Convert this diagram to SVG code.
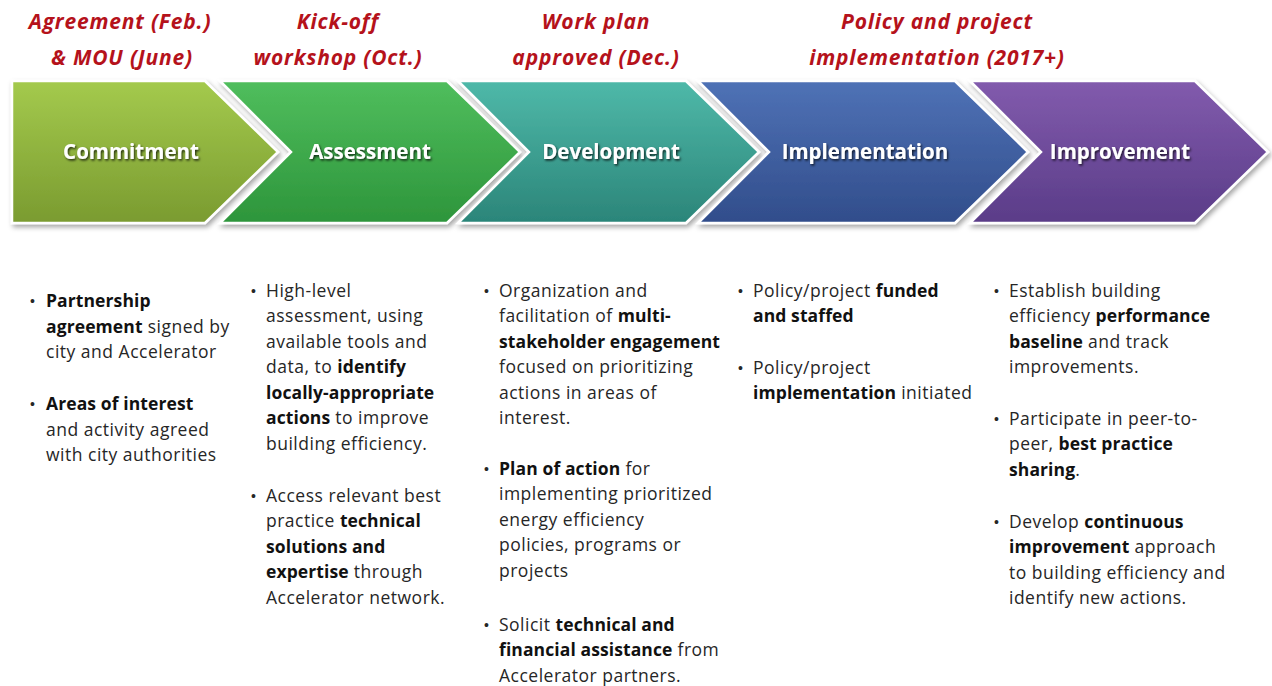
<svg xmlns="http://www.w3.org/2000/svg" width="1272" height="686" viewBox="0 0 1272 686">
  <style>
    .hdr { font-family: "Open Sans", "Liberation Sans", sans-serif; font-style: italic; font-weight: bold; font-size: 21px; letter-spacing: 0.8px; fill: #b5121b; text-anchor: middle; }
    .lbl { font-family: "Open Sans", "Liberation Sans", sans-serif; font-weight: bold; font-size: 20.5px; fill: #ffffff; text-anchor: middle; }
    .chev { stroke: #ffffff; stroke-width: 2.5; stroke-linejoin: miter; }
    .body { font-family: "Open Sans", "Liberation Sans", sans-serif; font-size: 17.5px; letter-spacing: 0.5px; fill: #262626; }
    .b { font-weight: bold; letter-spacing: 0.1px; fill: #111111; }
    .dot { font-family: "Liberation Sans", sans-serif; font-size: 14px; letter-spacing: 0; fill: #262626; }
  </style>
  <defs>
    <filter id="shadow" x="-5%" y="-10%" width="115%" height="130%">
      <feDropShadow dx="2" dy="3" stdDeviation="2.5" flood-color="#000000" flood-opacity="0.35"/>
    </filter>
    <filter id="txtShadow" x="-10%" y="-30%" width="120%" height="160%">
      <feDropShadow dx="1.2" dy="1.6" stdDeviation="0.9" flood-color="#000000" flood-opacity="0.75"/>
    </filter>
    <linearGradient id="gCommit" x1="0" y1="0" x2="0" y2="1">
      <stop offset="0" stop-color="#a4ca4d"/>
      <stop offset="1" stop-color="#7a9b30"/>
    </linearGradient>
    <linearGradient id="gAssess" x1="0" y1="0" x2="0" y2="1">
      <stop offset="0" stop-color="#50be5d"/>
      <stop offset="1" stop-color="#2d953b"/>
    </linearGradient>
    <linearGradient id="gDevel" x1="0" y1="0" x2="0" y2="1">
      <stop offset="0" stop-color="#4fb9a9"/>
      <stop offset="1" stop-color="#2b8579"/>
    </linearGradient>
    <linearGradient id="gImpl" x1="0" y1="0" x2="0" y2="1">
      <stop offset="0" stop-color="#4f72b6"/>
      <stop offset="1" stop-color="#314d8b"/>
    </linearGradient>
    <linearGradient id="gImprove" x1="0" y1="0" x2="0" y2="1">
      <stop offset="0" stop-color="#825bad"/>
      <stop offset="1" stop-color="#5a3c88"/>
    </linearGradient>
  </defs>

  <rect x="0" y="0" width="1272" height="686" fill="#ffffff"/>

  <!-- Milestone captions above each phase -->
  <g id="milestones">
    <text class="hdr" x="120" y="29">Agreement (Feb.)</text>
    <text class="hdr" x="122" y="65">&amp; MOU (June)</text>
    <text class="hdr" x="338" y="29">Kick-off</text>
    <text class="hdr" x="338" y="65">workshop (Oct.)</text>
    <text class="hdr" x="596" y="29">Work plan</text>
    <text class="hdr" x="596" y="65">approved (Dec.)</text>
    <text class="hdr" x="937" y="29">Policy and project</text>
    <text class="hdr" x="937" y="65">implementation (2017+)</text>
  </g>

  <!-- Phase chevrons -->
  <g id="commitment">
    <polygon class="chev" filter="url(#shadow)" fill="url(#gCommit)" points="12,81 205,81 278,152 205,223 12,223"/>
    <text class="lbl" filter="url(#txtShadow)" x="131" y="159">Commitment</text>
  </g>
  <g id="assessment">
    <polygon class="chev" filter="url(#shadow)" fill="url(#gAssess)" points="220,81 447,81 520,152 447,223 220,223 291,152"/>
    <text class="lbl" filter="url(#txtShadow)" x="370" y="159">Assessment</text>
  </g>
  <g id="development">
    <polygon class="chev" filter="url(#shadow)" fill="url(#gDevel)" points="458,81 686,81 759,152 686,223 458,223 529,152"/>
    <text class="lbl" filter="url(#txtShadow)" x="611" y="159">Development</text>
  </g>
  <g id="implementation">
    <polygon class="chev" filter="url(#shadow)" fill="url(#gImpl)" points="698,81 955,81 1028,152 955,223 698,223 769,152"/>
    <text class="lbl" filter="url(#txtShadow)" x="865" y="159">Implementation</text>
  </g>
  <g id="improvement">
    <polygon class="chev" filter="url(#shadow)" fill="url(#gImprove)" points="970,81 1195,81 1268,152 1195,223 970,223 1041,152"/>
    <text class="lbl" filter="url(#txtShadow)" x="1120" y="159">Improvement</text>
  </g>

  <!-- No connectors: phases abut as chevrons -->
  <g id="connectors"/>

  <!-- Activity lists under each phase -->
  <g id="list-commitment" class="body">
    <text class="dot" x="30" y="306">•</text>
    <text x="46" y="307"><tspan class="b">Partnership</tspan></text>
    <text x="46" y="333"><tspan class="b">agreement</tspan> signed by</text>
    <text x="46" y="358">city and Accelerator</text>
    <text class="dot" x="30" y="409">•</text>
    <text x="46" y="410"><tspan class="b">Areas of interest</tspan></text>
    <text x="46" y="436">and activity agreed</text>
    <text x="46" y="461">with city authorities</text>
  </g>

  <g id="list-assessment" class="body">
    <text class="dot" x="251" y="296">•</text>
    <text x="266" y="297">High-level</text>
    <text x="266" y="322">assessment, using</text>
    <text x="266" y="348">available tools and</text>
    <text x="266" y="373">data, to <tspan class="b">identify</tspan></text>
    <text x="266" y="399"><tspan class="b">locally-appropriate</tspan></text>
    <text x="266" y="424"><tspan class="b">actions</tspan> to improve</text>
    <text x="266" y="450">building efficiency.</text>
    <text class="dot" x="251" y="501">•</text>
    <text x="266" y="502">Access relevant best</text>
    <text x="266" y="527">practice <tspan class="b">technical</tspan></text>
    <text x="266" y="553"><tspan class="b">solutions and</tspan></text>
    <text x="266" y="578"><tspan class="b">expertise</tspan> through</text>
    <text x="266" y="604">Accelerator network.</text>
  </g>

  <g id="list-development" class="body">
    <text class="dot" x="484" y="296">•</text>
    <text x="499" y="297">Organization and</text>
    <text x="499" y="322">facilitation of <tspan class="b">multi-</tspan></text>
    <text x="499" y="348"><tspan class="b">stakeholder engagement</tspan></text>
    <text x="499" y="373">focused on prioritizing</text>
    <text x="499" y="399">actions in areas of</text>
    <text x="499" y="424">interest.</text>
    <text class="dot" x="484" y="474">•</text>
    <text x="499" y="475"><tspan class="b">Plan of action</tspan> for</text>
    <text x="499" y="500">implementing prioritized</text>
    <text x="499" y="526">energy efficiency</text>
    <text x="499" y="551">policies, programs or</text>
    <text x="499" y="577">projects</text>
    <text class="dot" x="484" y="630">•</text>
    <text x="499" y="631">Solicit <tspan class="b">technical and</tspan></text>
    <text x="499" y="656"><tspan class="b">financial assistance</tspan> from</text>
    <text x="499" y="682">Accelerator partners.</text>
  </g>

  <g id="list-implementation" class="body">
    <text class="dot" x="738" y="296">•</text>
    <text x="753" y="297">Policy/project <tspan class="b">funded</tspan></text>
    <text x="753" y="322"><tspan class="b">and staffed</tspan></text>
    <text class="dot" x="738" y="373">•</text>
    <text x="753" y="374">Policy/project</text>
    <text x="753" y="399"><tspan class="b">implementation</tspan> initiated</text>
  </g>

  <g id="list-improvement" class="body">
    <text class="dot" x="994" y="296">•</text>
    <text x="1009" y="297">Establish building</text>
    <text x="1009" y="322">efficiency <tspan class="b">performance</tspan></text>
    <text x="1009" y="348"><tspan class="b">baseline</tspan> and track</text>
    <text x="1009" y="373">improvements.</text>
    <text class="dot" x="994" y="424">•</text>
    <text x="1009" y="425">Participate in peer-to-</text>
    <text x="1009" y="450">peer, <tspan class="b">best practice</tspan></text>
    <text x="1009" y="476"><tspan class="b">sharing</tspan>.</text>
    <text class="dot" x="994" y="527">•</text>
    <text x="1009" y="528">Develop <tspan class="b">continuous</tspan></text>
    <text x="1009" y="553"><tspan class="b">improvement</tspan> approach</text>
    <text x="1009" y="579">to building efficiency and</text>
    <text x="1009" y="604">identify new actions.</text>
  </g>
</svg>
